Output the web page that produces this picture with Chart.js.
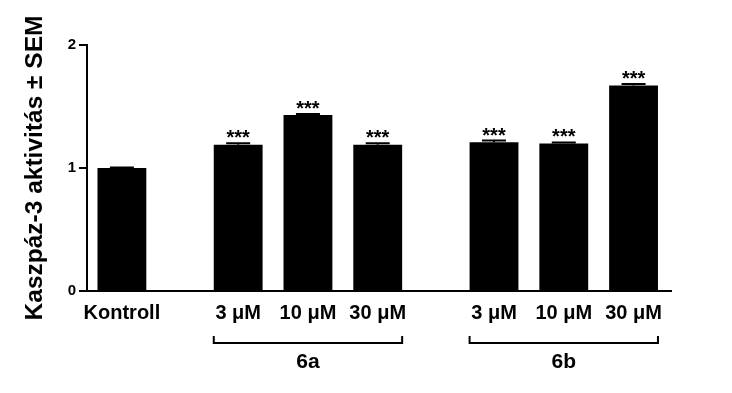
<!DOCTYPE html>
<html>
<head>
<meta charset="utf-8">
<script src="https://cdn.jsdelivr.net/npm/chart.js@4.4.1/dist/chart.umd.min.js"></script>
<style>
  body { margin: 0; background: #fff; }
  #wrap { width: 732px; height: 393px; }
</style>
</head>
<body>
<div id="wrap"><canvas id="caspChart"></canvas></div>
<script>
"use strict";

// Data
const categories = ['Kontroll', '3 μM', '10 μM', '30 μM', '3 μM', '10 μM', '30 μM'];
const groups = ['', '6a', '6a', '6a', '6b', '6b', '6b'];
const activity = [1.00, 1.19, 1.43, 1.19, 1.21, 1.20, 1.67];
const sem = [0.005, 0.012, 0.010, 0.012, 0.013, 0.008, 0.012];
const significance = ['', '***', '***', '***', '***', '***', '***'];
const yTicks = [0, 1, 2];

const FONT = 'Liberation Sans, Arial, Helvetica, sans-serif';

// Bar slots: one unit per bar, extra gap between groups
const groupGap = 2 / 3;
const xPos = [];
let cursor = 0;
categories.forEach((c, i) => {
    if (i > 0) {
        cursor += 1;
        if (groups[i] !== groups[i - 1]) cursor += groupGap;
    }
    xPos.push(cursor);
});

// Error bars, asterisks and group brackets
const annotations = {
    id: 'annotations',
    afterDatasetsDraw(chart) {
        const ctx = chart.ctx;
        const y = chart.scales.y;
        const area = chart.chartArea;
        const bars = chart.getDatasetMeta(0).data;
        ctx.save();
        ctx.strokeStyle = '#000';
        ctx.fillStyle = '#000';
        ctx.lineWidth = 2;

        bars.forEach((bar, i) => {
            const top = y.getPixelForValue(activity[i] + sem[i]);
            ctx.beginPath();
            ctx.moveTo(bar.x, bar.y);
            ctx.lineTo(bar.x, top);
            ctx.moveTo(bar.x - 12, top);
            ctx.lineTo(bar.x + 12, top);
            ctx.stroke();
            if (significance[i]) {
                ctx.font = 'bold 20px ' + FONT;
                ctx.textAlign = 'center';
                ctx.textBaseline = 'alphabetic';
                ctx.fillText(significance[i], bar.x, top + 1);
            }
        });

        const names = [...new Set(groups.filter(g => g))];
        names.forEach(name => {
            const idx = groups.map((g, i) => g === name ? i : -1).filter(i => i >= 0);
            const first = bars[idx[0]];
            const last = bars[idx[idx.length - 1]];
            const left = first.x - first.width / 2;
            const right = last.x + last.width / 2;
            const lineY = area.bottom + 52;
            ctx.beginPath();
            ctx.moveTo(left, lineY - 7);
            ctx.lineTo(left, lineY);
            ctx.lineTo(right, lineY);
            ctx.lineTo(right, lineY - 7);
            ctx.stroke();
            ctx.font = 'bold 21px ' + FONT;
            ctx.textAlign = 'center';
            ctx.textBaseline = 'middle';
            ctx.fillText(name, (left + right) / 2, area.bottom + 71);
        });
        ctx.restore();
    }
};

const ctx = document.getElementById('caspChart');
new Chart(ctx, {
    type: 'bar',
    data: {
        datasets: [{
            data: activity.map((v, i) => ({ x: xPos[i], y: v })),
            backgroundColor: '#000',
            borderWidth: 0,
            categoryPercentage: 0.7,
            barPercentage: 1.0
        }]
    },
    options: {
        responsive: true,
        maintainAspectRatio: false,
        animation: false,
        layout: { padding: { top: 45, right: 61, bottom: 0, left: 0 } },
        plugins: {
            legend: { display: false },
            tooltip: { enabled: false }
        },
        scales: {
            x: {
                type: 'linear',
                min: -0.5,
                max: 7.87,
                offset: false,
                afterBuildTicks: s => { s.ticks = xPos.map(v => ({ value: v })); },
                afterFit: s => { s.height = 102; },
                ticks: {
                    callback: (v, i) => categories[i],
                    autoSkip: false,
                    maxRotation: 0,
                    color: '#000',
                    padding: 2,
                    font: { family: FONT, size: 20, weight: 'bold' }
                },
                grid: { display: false },
                border: { display: true, color: '#000', width: 2 }
            },
            y: {
                min: 0,
                max: 2,
                afterBuildTicks: s => { s.ticks = yTicks.map(v => ({ value: v })); },
                afterFit: s => { s.width = 87; },
                ticks: {
                    color: '#000',
                    padding: 3,
                    font: { family: FONT, size: 15, weight: 'bold' }
                },
                grid: {
                    drawOnChartArea: false,
                    drawTicks: true,
                    tickLength: 8,
                    color: '#000',
                    lineWidth: 2
                },
                border: { color: '#000', width: 2 },
                title: {
                    display: true,
                    text: 'Kaszpáz-3 aktivitás ± SEM',
                    color: '#000',
                    font: { family: FONT, size: 24.5, weight: 'bold' },
                    padding: { top: 21, bottom: 0 }
                }
            }
        }
    },
    plugins: [annotations]
});
</script>
</body>
</html>
